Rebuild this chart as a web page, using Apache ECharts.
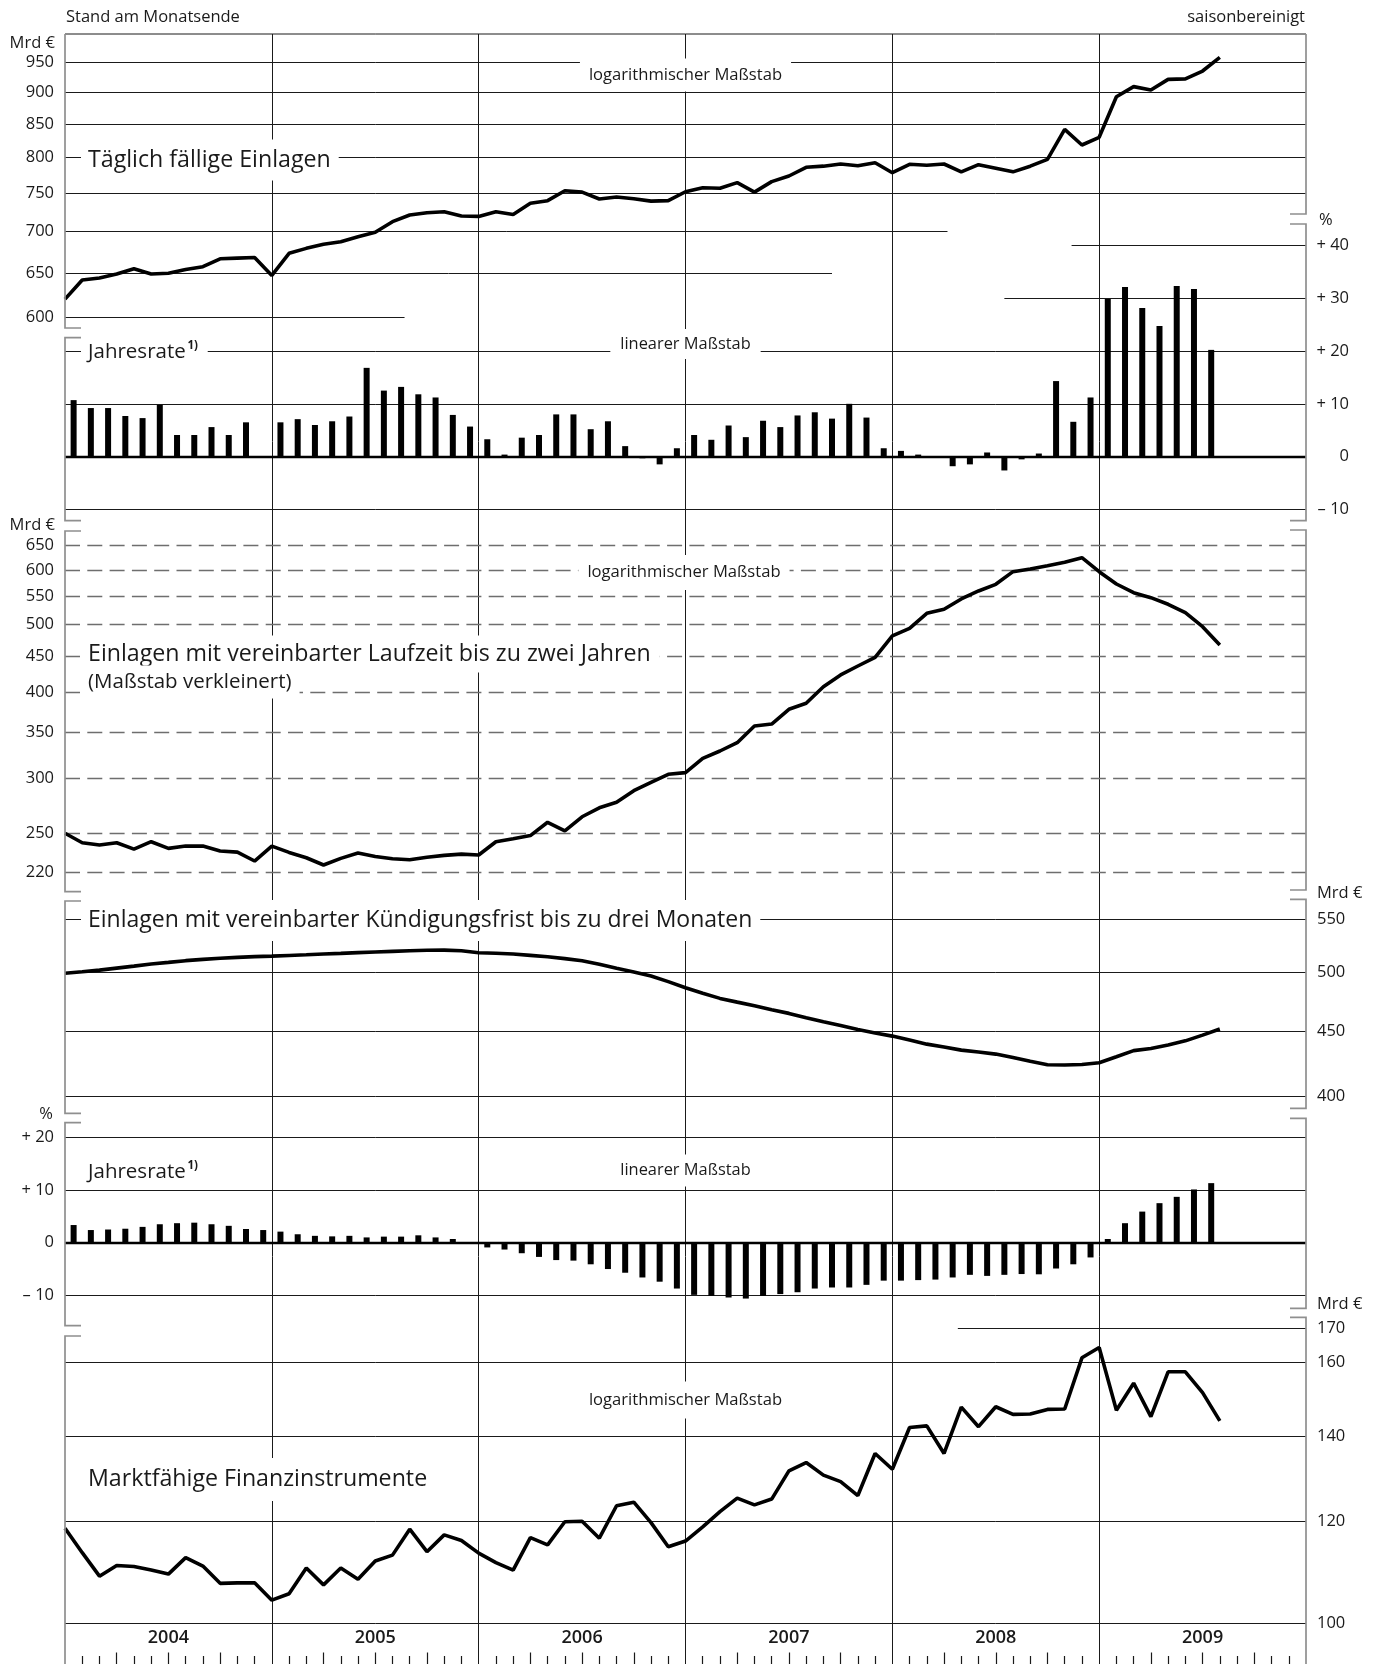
<!DOCTYPE html>
<html>
<head>
<meta charset="utf-8">
<script src="https://cdn.jsdelivr.net/npm/echarts@6/dist/echarts.min.js"></script>
<style>
  html, body { margin: 0; padding: 0; background: #fff; }
  #chart { width: 1380px; height: 1664px; }
</style>
</head>
<body>
<div id="chart"></div>
<script>
// Stand am Monatsende, Index 0 = Ende Dez 2003 ... Index 67 = Ende Jul 2009
const yearLabels = ['2004', '2005', '2006', '2007', '2008', '2009'];

// Mrd €
const taeglichFaellig = [620, 641.7, 644, 648.6, 654.8, 648.6, 649.5, 654, 657.3, 666.7,
  667.5, 668.3, 647, 673.3, 679.3, 684.3, 687.5, 693.7, 699.2, 712.7,
  721.3, 724.3, 725.5, 720, 719.5, 725.5, 722, 736.7, 740.2, 753.6,
  751.7, 742.4, 745, 742.8, 739.6, 740.2, 752.2, 757.7, 757, 764.6,
  751.7, 766, 773.8, 786, 787.6, 790.7, 788.3, 792.4, 778.4, 790.3,
  789, 790.7, 779.6, 789.7, 784.7, 779.6, 787.6, 797.4, 841.6, 818.2,
  829.6, 892.5, 908.8, 903.3, 920.8, 921.6, 934.7, 958];

const laufzeitBis2J = [250.2, 242.5, 240.6, 242.5, 237.4, 243.3, 238, 239.8, 239.8, 235.9,
  235, 228.2, 239.8, 234.8, 230.7, 225.2, 230.2, 234.3, 231.7, 229.9,
  229.2, 231.1, 232.5, 233.5, 232.8, 243.3, 245.7, 248.3, 259.5, 252.2,
  264.3, 272.3, 277.3, 288.2, 296.3, 304.3, 306, 320.9, 328.8, 338,
  357.2, 359.6, 377.6, 385.2, 407, 423.2, 436, 448.8, 481.7, 494.1,
  519.3, 526.3, 544.6, 559.3, 571.8, 596.3, 601.6, 608.2, 615.1, 624.6,
  596.3, 572.4, 556.1, 547, 535.1, 520.4, 496.7, 467.5];

const kuendigung3M = [499.1, 500.5, 502, 503.8, 505.6, 507.5, 509, 510.6, 511.8, 512.8,
  513.6, 514.3, 514.8, 515.4, 516, 516.7, 517.3, 518, 518.6, 519.2,
  519.8, 520.2, 520.4, 519.8, 517.9, 517.4, 516.7, 515.5, 514.2, 512.5,
  510.5, 507.3, 503.6, 500.3, 496.7, 491.7, 486.3, 481.5, 477.1, 473.9,
  470.8, 467.5, 464.4, 460.8, 457.4, 454.3, 451.2, 448.3, 445.8, 442.7,
  439.4, 437.2, 434.7, 433.2, 431.6, 428.9, 426, 423.4, 423.2, 423.6,
  424.9, 429.5, 434.3, 436, 438.7, 442, 446.6, 451.5];

const marktfaehig = [118.6, 113.5, 108.8, 110.9, 110.7, 110, 109.2, 112.5, 110.8, 107.4,
  107.5, 107.5, 104.2, 105.4, 110.4, 107.1, 110.4, 108.2, 111.8, 113,
  118.4, 113.7, 117.2, 116, 113.4, 111.5, 110, 116.6, 115.1, 120,
  120.1, 116.5, 123.5, 124.3, 119.8, 114.7, 115.9, 118.9, 122.2, 125.2,
  123.7, 125, 131.5, 133.5, 130.5, 129, 125.8, 135.7, 131.9, 142.2,
  142.6, 135.7, 147.5, 142.4, 147.6, 145.6, 145.7, 146.9, 147, 161.2,
  164.2, 146.7, 154, 145, 157.2, 157.2, 151.4, 143.9];

// Jahresraten in %, Jan 2004 ... Jul 2009
const rateTaeglich = [10.7, 9.2, 9.2, 7.7, 7.3, 9.8, 4.1, 4.1, 5.6, 4.1, 6.5, null,
  6.5, 7.1, 6.0, 6.7, 7.6, 16.8, 12.5, 13.2, 11.8, 11.2, 7.9, 5.7,
  3.3, 0.4, 3.6, 4.1, 8.0, 8.0, 5.2, 6.7, 2.0, -0.3, -1.45, 1.6,
  4.1, 3.2, 5.9, 3.7, 6.8, 5.6, 7.8, 8.4, 7.2, 10.0, 7.4, 1.6,
  1.1, 0.4, 0.1, -1.8, -1.45, 0.8, -2.6, -0.5, 0.6, 14.3, 6.6, 11.2,
  29.8, 32.1, 28.1, 24.7, 32.3, 31.7, 20.2];

const rateKuendigung = [3.35, 2.4, 2.5, 2.65, 3.0, 3.5, 3.7, 3.8, 3.5, 3.2, 2.6, 2.4,
  2.1, 1.6, 1.3, 1.2, 1.3, 1.0, 1.15, 1.15, 1.4, 1.0, 0.7, 0,
  -0.9, -1.3, -2.0, -2.7, -3.3, -3.4, -4.1, -5.0, -5.7, -6.6, -7.4, -8.7,
  -9.9, -10.1, -10.4, -10.6, -10.1, -9.75, -9.4, -8.7, -8.5, -8.5, -8.0, -7.2,
  -7.2, -7.1, -7.0, -6.6, -6.1, -6.3, -6.1, -5.95, -6.0, -4.9, -4.1, -2.8,
  0.7, 3.7, 5.9, 7.5, 8.7, 10.1, 11.3];

// Achsenbeschriftungen
const ticksTaeglich = [600, 650, 700, 750, 800, 850, 900, 950];
const ticksRateTaeglich = [-10, 0, 10, 20, 30, 40];
const ticksLaufzeit = [220, 250, 300, 350, 400, 450, 500, 550, 600, 650];
const ticksKuendigung = [400, 450, 500, 550];
const ticksRateKuend = [-10, 0, 10, 20];
const ticksMarkt = [100, 120, 140, 160, 170];

const FONT = "'Open Sans', 'Noto Sans', sans-serif";
const INK = '#1a1a1a';
const XL = 65, XR = 1306;
const MONTHS = 72;

const chart = echarts.init(document.getElementById('chart'));

const fmtPct = v => v === 0 ? '0' : (v > 0 ? '+ ' : '\u2013 ') + Math.abs(v);
const fmtInt = v => String(Math.round(v));

// horizontal grid lines; partial = {value: [fromMonth, toMonth]}
function hLines(values, partial, zero) {
  return values.map(v => {
    if (partial && partial[v]) {
      return [{ coord: [partial[v][0], v] }, { coord: [partial[v][1], v] }];
    }
    if (v === zero) return { yAxis: v, lineStyle: { width: 2.4, color: '#000' } };
    return { yAxis: v };
  });
}

function markLine(data, style) {
  return {
    silent: true,
    symbol: ['none', 'none'],
    label: { show: false },
    animation: false,
    lineStyle: Object.assign({ color: INK, width: 1, type: 'solid' }, style || {}),
    data: data
  };
}

const hiddenX = gi => ({ type: 'value', gridIndex: gi, min: 0, max: MONTHS, show: false });

function yAxisDef(gi, type, min, max, pos, ticks, fmt, extra) {
  return {
    type: type, gridIndex: gi, min: min, max: max, position: pos,
    axisLine: { show: false }, axisTick: { show: false }, splitLine: { show: false },
    axisLabel: Object.assign({
      customValues: ticks, formatter: fmt, margin: 11,
      fontSize: 16.5, color: INK, fontFamily: FONT
    }, extra || {})
  };
}

const monthTicks = [], quarterTicks = [];
for (let m = 1; m < MONTHS; m++) {
  if (m % 12 === 0) continue;
  (m % 3 === 0 ? quarterTicks : monthTicks).push(m);
}
const yearCenters = yearLabels.map((_, i) => i * 12 + 6);

const lineSeries = (xi, arr, ml) => ({
  type: 'line', xAxisIndex: xi, yAxisIndex: xi,
  data: arr.map((v, i) => [i, v]),
  symbol: 'none', smooth: false,
  lineStyle: { color: '#000', width: 3.6 },
  z: 5,
  markLine: ml
});

const barSeries = (xi, arr, ml) => ({
  type: 'bar', xAxisIndex: xi, yAxisIndex: xi,
  data: arr.map((v, i) => [i + 0.5, v]),
  barWidth: 6,
  itemStyle: { color: '#000' },
  z: 5,
  markLine: ml
});

// decoration: broken axis frames
const leftSegs = [[34, 328, false, true], [337.7, 520.7, true, true], [531, 891.7, true, true],
  [901, 1113.3, true, true], [1122.7, 1325.7, true, true], [1336, 1664, true, false]];
const rightSegs = [[34, 214, false, true], [224, 520.7, true, true], [530, 890, true, true],
  [899.3, 1108.3, true, true], [1118.3, 1308.3, true, true], [1317.3, 1664, true, false]];

function bracket(seg, x, dir) {
  const pts = [];
  if (seg[2]) pts.push([x + dir * 16, seg[0]]);
  pts.push([x, seg[0]], [x, seg[1]]);
  if (seg[3]) pts.push([x + dir * 16, seg[1]]);
  return {
    type: 'polyline', z: 60, silent: true,
    shape: { points: pts },
    style: { stroke: '#8f8f8f', lineWidth: 1.7, fill: null }
  };
}

function label(text, x, y, opt) {
  opt = opt || {};
  const st = {
    text: text, x: x, y: y,
    fontFamily: FONT, fontSize: opt.size || 16.5, fontWeight: opt.weight || 'normal',
    fill: INK, align: opt.align || 'left', verticalAlign: 'middle'
  };
  if (opt.pad) { st.backgroundColor = '#fff'; st.padding = opt.pad; }
  return { type: 'text', z: opt.z || 50, silent: true, style: st };
}

const graphics = [
  { type: 'line', z: 40, silent: true, shape: { x1: XL, y1: 34, x2: XR, y2: 34 }, style: { stroke: INK, lineWidth: 1 } },
  label('Stand am Monatsende', 66, 17),
  label('saisonbereinigt', 1305, 17, { align: 'right' }),
  label('Mrd €', 55, 43, { align: 'right' }),
  label('Mrd €', 55, 525.5, { align: 'right' }),
  label('%', 53, 1114, { align: 'right' }),
  label('%', 1319, 220, {}),
  label('Mrd €', 1317, 893.5, {}),
  label('Mrd €', 1317, 1304.5, {}),

  label('Täglich fällige Einlagen', 81, 160, { size: 23.2, pad: [9, 8, 9, 7] }),
  label('logarithmischer Maßstab', 685.5, 75, { size: 16.6, align: 'center', pad: [8, 9, 8, 9] }),
  label('Jahresrate', 81, 352.5, { size: 20.5, pad: [7, 22, 7, 7] }),
  label('1)', 187.5, 346, { size: 11.5, weight: 'bold', z: 55 }),
  label('linearer Maßstab', 685.5, 344, { size: 16.4, align: 'center', pad: [7, 10, 7, 10] }),

  label('logarithmischer Maßstab', 684, 572.5, { size: 16.6, align: 'center', pad: [9, 9, 9, 9] }),
  label('Einlagen mit vereinbarter Laufzeit bis zu zwei Jahren', 81, 654, { size: 23.2, pad: [9, 9, 5, 7] }),
  label('(Maßstab verkleinert)', 81, 682, { size: 20.5, pad: [4, 8, 8, 7] }),

  label('Einlagen mit vereinbarter Kündigungsfrist bis zu drei Monaten', 81, 920.5, { size: 23, pad: [9, 8, 9, 7] }),

  label('Jahresrate', 81, 1172, { size: 20.5, pad: [6, 22, 6, 7] }),
  label('1)', 187.5, 1166, { size: 11.5, weight: 'bold', z: 55 }),
  label('linearer Maßstab', 685.5, 1170.5, { size: 16.4, align: 'center', pad: [8, 10, 8, 10] }),

  label('logarithmischer Maßstab', 685.5, 1400, { size: 16.6, align: 'center', pad: [10, 9, 10, 9] }),
  label('Marktfähige Finanzinstrumente', 81, 1479.5, { size: 23.2, pad: [10, 8, 10, 7] })
];
leftSegs.forEach(s => graphics.push(bracket(s, XL, 1)));
rightSegs.forEach(s => graphics.push(bracket(s, XR, -1)));

const grid = (top, height) => ({ left: XL, right: 1380 - XR, top: top, height: height });

const option = {
  animation: false,
  backgroundColor: '#fff',
  textStyle: { fontFamily: FONT },
  grid: [
    grid(34, 1630),       // 0 Hintergrund (Jahreslinien)
    grid(34, 294),        // 1 Täglich fällige Einlagen
    grid(224, 296.7),     // 2 Jahresrate täglich fällig
    grid(531, 360.7),     // 3 Laufzeit bis 2 Jahre
    grid(899.3, 209),     // 4 Kündigungsfrist
    grid(1120, 197),      // 5 Jahresrate Kündigungsfrist
    grid(1317.3, 305.7),  // 6 Marktfähige Finanzinstrumente
    grid(1623, 41)        // 7 Jahresband
  ],
  xAxis: [
    hiddenX(0), hiddenX(1), hiddenX(2), hiddenX(3), hiddenX(4), hiddenX(5), hiddenX(6),
    {
      type: 'value', gridIndex: 7, min: 0, max: MONTHS, position: 'top',
      axisLine: { show: false }, axisTick: { show: false }, splitLine: { show: false },
      axisLabel: {
        inside: true, customValues: yearCenters, margin: 6,
        formatter: v => yearLabels[Math.round((v - 6) / 12)],
        fontSize: 18, fontWeight: 600, color: INK, fontFamily: FONT
      }
    },
    {
      type: 'value', gridIndex: 7, min: 0, max: MONTHS, position: 'bottom',
      axisLine: { show: false }, axisLabel: { show: false }, splitLine: { show: false },
      axisTick: { show: true, inside: true, length: 8, customValues: monthTicks, lineStyle: { color: INK, width: 1.2 } }
    },
    {
      type: 'value', gridIndex: 7, min: 0, max: MONTHS, position: 'bottom',
      axisLine: { show: false }, axisLabel: { show: false }, splitLine: { show: false },
      axisTick: { show: true, inside: true, length: 11.5, customValues: quarterTicks, lineStyle: { color: INK, width: 1.2 } }
    }
  ],
  yAxis: [
    { type: 'value', gridIndex: 0, min: 0, max: 1, show: false },
    yAxisDef(1, 'log', 588.6, 999.1, 'left', ticksTaeglich, fmtInt),
    yAxisDef(2, 'value', -12.1, 44, 'right', ticksRateTaeglich, fmtPct, { align: 'right', margin: 43 }),
    yAxisDef(3, 'log', 206.1, 682.5, 'left', ticksLaufzeit, fmtInt),
    yAxisDef(4, 'log', 391.5, 570.2, 'right', ticksKuendigung, fmtInt),
    yAxisDef(5, 'value', -14.1, 23.28, 'left', ticksRateKuend, fmtPct),
    yAxisDef(6, 'log', 100, 173.4, 'right', ticksMarkt, fmtInt),
    { type: 'value', gridIndex: 7, min: 0, max: 1, show: false }
  ],
  series: [
    {
      type: 'line', xAxisIndex: 0, yAxisIndex: 0, data: [], symbol: 'none', z: 1,
      markLine: markLine(yearLabels.slice(1).map((_, i) => ({ xAxis: (i + 1) * 12 })))
    },
    lineSeries(1, taeglichFaellig,
      markLine(hLines(ticksTaeglich, { 600: [0, 19.7], 650: [0, 44.5], 700: [0, 51.2] }))),
    barSeries(2, rateTaeglich,
      markLine(hLines(ticksRateTaeglich, { 30: [54.5, MONTHS], 40: [58.4, MONTHS] }, 0))),
    lineSeries(3, laufzeitBis2J,
      markLine(hLines(ticksLaufzeit), { color: '#6e6e6e', width: 1.3, type: [15, 7.3] })),
    lineSeries(4, kuendigung3M, markLine(hLines(ticksKuendigung))),
    barSeries(5, rateKuendigung, markLine(hLines(ticksRateKuend, null, 0))),
    lineSeries(6, marktfaehig, markLine(hLines(ticksMarkt, { 170: [51.8, MONTHS] })))
  ],
  graphic: graphics
};

chart.setOption(option);
window.addEventListener('resize', () => chart.resize());
</script>
</body>
</html>
